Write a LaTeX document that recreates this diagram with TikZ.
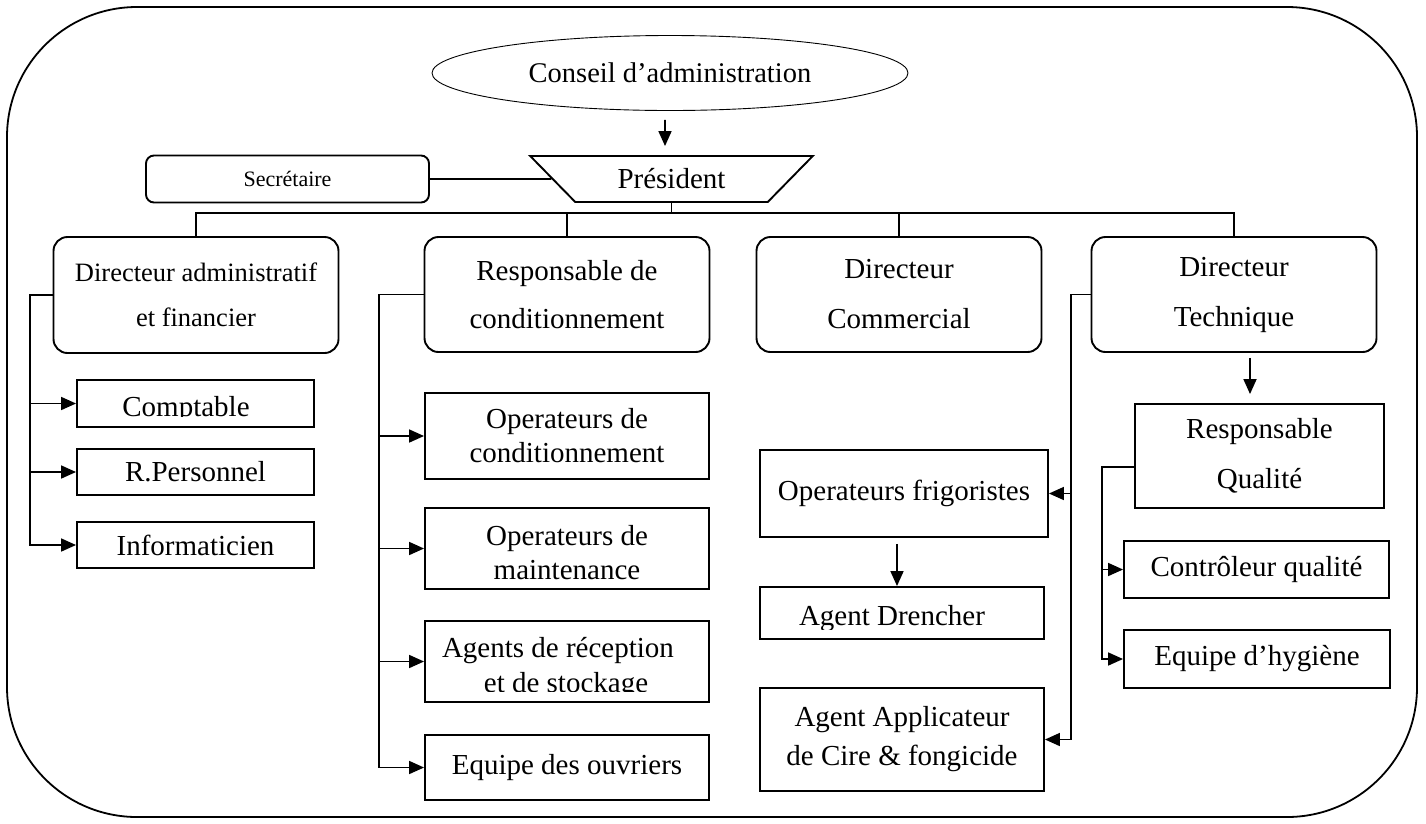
\documentclass[tikz,border=0pt]{standalone}
\usepackage{fontspec}
\setmainfont{Liberation Serif}
\usetikzlibrary{shapes.geometric,arrows.meta}
\begin{document}
\begin{tikzpicture}[x=1pt,y=-1pt,
  rbox/.style={draw, rounded corners=14pt, line width=1.9pt, inner sep=0pt, align=center, font=\fontsize{29}{48}\selectfont},
  sbox/.style={draw, line width=1.9pt, inner sep=0pt, align=center, font=\fontsize{29}{34}\selectfont},
  txt/.style={inner sep=0pt, font=\fontsize{29}{34}\selectfont},
  ln/.style={line width=1.7pt},
  arr/.style={line width=1.7pt, -{Triangle[length=15pt,width=13pt]}},
]
\useasboundingbox (0,0) rectangle (1426,823);
% outer frame
\draw[line width=1.8pt, rounded corners=130pt] (7,7) rectangle (1417,817);

% top
\node[draw, ellipse, line width=0.9pt, minimum width=476pt, minimum height=75pt, inner sep=0pt, font=\fontsize{28.5}{34}\selectfont] (cons) at (670,73) {Conseil d’administration};
\node[draw, trapezium, trapezium angle=39, shape border rotate=180, trapezium stretches=true, minimum width=283pt, minimum height=46pt, inner sep=0pt, line width=1.9pt, font=\fontsize{29}{34}\selectfont] (pres) at (671.5,179) {Président};
\node[rbox, rounded corners=8pt, minimum width=283pt, minimum height=47pt, font=\fontsize{22}{26}\selectfont] (sec) at (287.5,179) {Secrétaire};
\draw[ln] (sec.east) -- (pres.west);
\draw[arr] ([xshift=-5pt,yshift=-9pt]cons.south) -- ([xshift=-6.5pt,yshift=9pt]pres.north);

% directors
\node[rbox, minimum width=285pt, minimum height=116pt, font=\fontsize{26.5}{45}\selectfont] (dadm) at (196,295) {Directeur administratif\\et financier};
\node[rbox, minimum width=285pt, minimum height=115pt] (resp) at (567,294.5) {Responsable de\\conditionnement};
\node[rbox, minimum width=285pt, minimum height=115pt, font=\fontsize{29}{50}\selectfont] (dcom) at (899,294.5) {Directeur\\Commercial};
\node[rbox, minimum width=285pt, minimum height=115pt, font=\fontsize{29}{50}\selectfont] (dtech) at (1234,294.5) {Directeur\\Technique};

\coordinate (bus) at (0,213);
\draw[ln] (pres.south) -- (pres.south |- bus);
\draw[ln] (dadm.north) -- (dadm.north |- bus) -| (dtech.north);
\draw[ln] (resp.north) -- (resp.north |- bus);
\draw[ln] (dcom.north) -- (dcom.north |- bus);

% administratif branch
\coordinate (ba) at (30,0);
\node[sbox, minimum width=237pt, minimum height=47pt] (comp) at (195.5,403.5) {};
\begin{scope}
  \clip (77,380) rectangle (314,416);
  \node[txt, anchor=base] (comptxt) at (186,416) {Comptable};
\end{scope}
\node[sbox, minimum width=237pt, minimum height=46pt] (rpers) at (195.5,472) {R.Personnel};
\node[sbox, minimum width=237pt, minimum height=46pt] (info) at (195.5,545) {Informaticien};
\draw[arr] (dadm.west) -| (info.west -| ba) -- (info.west);
\draw[arr] (comp.west -| ba) -- (comp.west);
\draw[arr] (rpers.west -| ba) -- (rpers.west);

% conditionnement branch
\coordinate (br) at (379,0);
\node[sbox, minimum width=284pt, minimum height=86pt] (oc) at (567,436) {Operateurs de\\conditionnement};
\node[sbox, minimum width=284pt, minimum height=81pt] (om) at (567,548.5) {};
\node[txt, anchor=base] (om1) at (567,545) {Operateurs de};
\node[txt, anchor=base] (om2) at (567,579) {maintenance};
\node[sbox, minimum width=284pt, minimum height=81pt] (ar) at (567,661.5) {};
\node[txt, anchor=base] (ar1) at (558,657) {Agents de réception};
\begin{scope}
  \clip (425,621) rectangle (709,691);
  \node[txt, anchor=base] (ar2) at (566,692) {et de stockage};
\end{scope}
\node[sbox, minimum width=284pt, minimum height=65pt] (eo) at (567,767.5) {Equipe des ouvriers};
\draw[arr] (resp.west) -| (eo.west -| br) -- (eo.west);
\draw[arr] (oc.west -| br) -- (oc.west);
\draw[arr] (om.west -| br) -- (om.west);
\draw[arr] (ar.west -| br) -- (ar.west);

% commercial / technique column
\coordinate (bt) at (1071,0);
\node[sbox, minimum width=288pt, minimum height=87pt] (frig) at (904,493.5) {Operateurs frigoristes};
\node[sbox, minimum width=284pt, minimum height=52pt] (dren) at (902,613) {};
\begin{scope}
  \clip (760,587) rectangle (1044,629);
  \node[txt, anchor=base] (drentxt) at (892,625) {Agent Drencher};
\end{scope}
\node[sbox, minimum width=284pt, minimum height=103pt, font=\fontsize{29}{39}\selectfont] (appl) at (902,739.5) {Agent Applicateur\\de Cire \& fongicide};
\draw[arr] (dtech.west) -| (appl.east -| bt) -- (appl.east);
\draw[arr] (frig.east -| bt) -- (frig.east);
\draw[arr] ([xshift=-7pt,yshift=-6pt]frig.south) -- ([xshift=-7pt]frig.south |- dren.north);

% qualite
\node[sbox, minimum width=249pt, minimum height=104pt, font=\fontsize{29}{50}\selectfont] (rq) at (1259.5,456) {Responsable\\Qualité};
\draw[arr] ([xshift=16pt,yshift=-5pt]dtech.south) -- ([xshift=-9.5pt,yshift=9pt]rq.north);
\node[sbox, minimum width=265pt, minimum height=57pt] (ctrl) at (1256.5,569.5) {Contrôleur qualité};
\node[sbox, minimum width=266pt, minimum height=58pt] (hyg) at (1257,659) {Equipe d’hygiène};
\coordinate (bq) at (1102,0);
\draw[arr] ([yshift=-11pt]rq.west) -| (hyg.west -| bq) -- (hyg.west);
\draw[arr] (ctrl.west -| bq) -- (ctrl.west);
\end{tikzpicture}
\end{document}
